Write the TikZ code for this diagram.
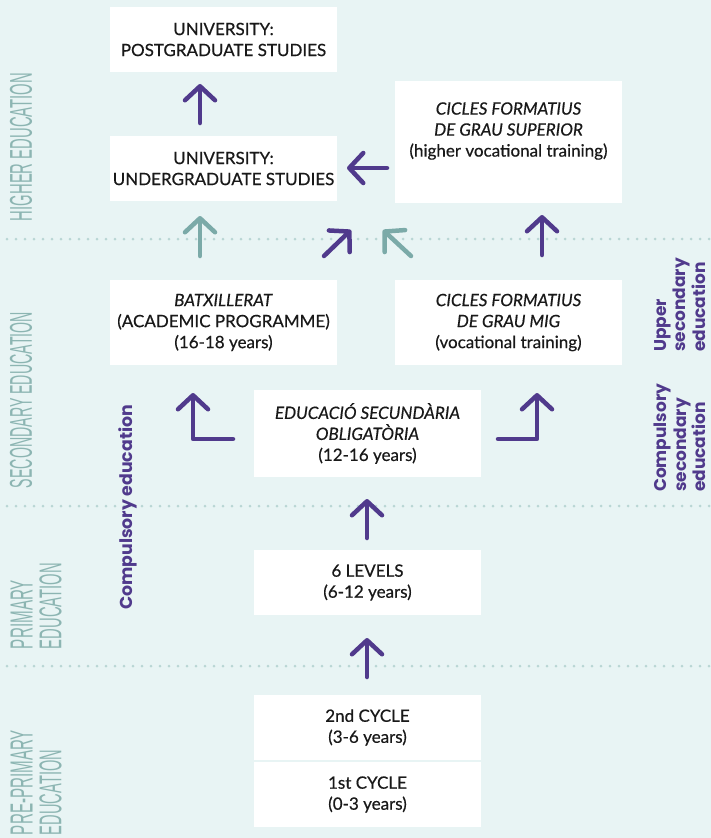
\documentclass[tikz,border=0pt]{standalone}
\usepackage{fontspec}
\usepackage{graphicx}
\usetikzlibrary{arrows.meta}
\newfontfamily\boxfont{Lato}[UprightFeatures={FakeBold=0.5},ItalicFeatures={FakeBold=0.5}]
\newfontfamily\labfont{Liberation Sans}
\newfontfamily\purfont{Poppins}
\definecolor{bgc}{RGB}{232,244,244}
\definecolor{purp}{RGB}{80,58,140}
\definecolor{tealarr}{RGB}{123,170,168}
\definecolor{labc}{RGB}{140,181,178}
\definecolor{dotc}{RGB}{185,214,212}
\definecolor{txt}{RGB}{25,25,25}
\tikzset{
  box/.style={fill=white, inner sep=0pt, align=center, text=txt,
    font=\boxfont\fontsize{17}{21}\selectfont, minimum width=227pt},
  arr/.style={line width=4.5pt, line cap=round, line join=round, draw=purp,
    -{Straight Barb[length=14pt,width=30pt,round]}},
  tarr/.style={arr, draw=tealarr},
  dotline/.style={draw=dotc, line width=3pt, line cap=round, dash pattern=on 0pt off 9pt},
  sidelab/.style={text=labc, inner sep=0pt, rotate=90},
  purlab/.style={text=purp, inner sep=0pt, rotate=90, align=left,
    font=\purfont\bfseries\fontsize{17}{19.5}\selectfont}
}
\begin{document}
\begin{tikzpicture}[x=1pt,y=-1pt]
\fill[bgc] (0,0) rectangle (711,838);
\useasboundingbox (0,0) rectangle (711,838);
% dotted separators
\coordinate (d1a) at (7,239); \coordinate (d1b) at (711,239);
\coordinate (d2a) at (7,506); \coordinate (d2b) at (711,506);
\coordinate (d3a) at (7,666); \coordinate (d3b) at (711,666);
\draw[dotline] (d1a) -- (d1b);
\draw[dotline] (d2a) -- (d2b);
\draw[dotline] (d3a) -- (d3b);
% boxes
\node[box, minimum height=65pt] (post) at (223.5,39.5) {UNIVERSITY:\\POSTGRADUATE STUDIES};
\node[box, minimum height=65pt] (under) at (223.5,168.5) {UNIVERSITY:\\UNDERGRADUATE STUDIES};
\node[box, minimum height=122pt] (sup) at (508.5,142) {};
\node[box, fill=none] (suptext) at (508.5,131) {\textit{CICLES FORMATIUS}\\\textit{DE GRAU SUPERIOR}\\(higher vocational training)};
\node[box, minimum height=85pt] (batx) at (223.5,322.5) {\textit{BATXILLERAT}\\(ACADEMIC PROGRAMME)\\(16-18 years)};
\node[box, minimum height=85pt] (mig) at (508.5,322.5) {\textit{CICLES FORMATIUS}\\\textit{DE GRAU MIG}\\(vocational training)};
\node[box, minimum height=87pt] (eso) at (367.5,433.5) {\textit{EDUCACIÓ SECUNDÀRIA}\\\textit{OBLIGATÒRIA}\\(12-16 years)};
\node[box, minimum height=65pt] (lev) at (367.5,582.5) {6 LEVELS\\(6-12 years)};
\node[box, minimum height=65pt] (cyc2) at (367.5,727.5) {2nd CYCLE\\(3-6 years)};
\node[box, minimum height=65pt] (cyc1) at (367.5,794.5) {1st CYCLE\\(0-3 years)};
% arrow end points
\coordinate (a1s) at (200,123); \coordinate (a1e) at (200,84);
\coordinate (a2s) at (200,256); \coordinate (a2e) at (200,216);
\coordinate (a3s) at (387,168); \coordinate (a3e) at (347,168);
\coordinate (a4s) at (324,256); \coordinate (a4e) at (351,230);
\coordinate (a5s) at (411,256); \coordinate (a5e) at (383,230);
\coordinate (a6s) at (542,255); \coordinate (a6e) at (542,215);
\coordinate (e1s) at (233,439); \coordinate (e1e) at (193,393);
\coordinate (e2s) at (498,439); \coordinate (e2e) at (537,393);
\coordinate (a7s) at (367,538); \coordinate (a7e) at (367,499);
\coordinate (a8s) at (367,677); \coordinate (a8e) at (367,638);
\draw[arr] (a1s) -- (a1e);
\draw[tarr] (a2s) -- (a2e);
\draw[arr] (a3s) -- (a3e);
\draw[arr] (a4s) -- (a4e);
\draw[tarr] (a5s) -- (a5e);
\draw[arr] (a6s) -- (a6e);
\draw[arr] (e1s) -| (e1e);
\draw[arr] (e2s) -| (e2e);
\draw[arr] (a7s) -- (a7e);
\draw[arr] (a8s) -- (a8e);
% left side labels
\node[sidelab] (lhigh) at (21,147) {\resizebox{148pt}{22pt}{\labfont HIGHER EDUCATION}};
\node[sidelab] (lsec) at (21,400) {\resizebox{176pt}{22pt}{\labfont SECONDARY EDUCATION}};
\node[sidelab] (lprim1) at (21.5,614.5) {\resizebox{69pt}{22pt}{\labfont PRIMARY}};
\node[sidelab] (lprim2) at (50.5,606) {\resizebox{86pt}{22pt}{\labfont EDUCATION}};
\node[sidelab] (lpre1) at (21.5,782.5) {\resizebox{105pt}{22pt}{\labfont PRE-PRIMARY}};
\node[sidelab] (lpre2) at (50.5,792.5) {\resizebox{85pt}{22pt}{\labfont EDUCATION}};
% purple labels
\node[purlab, anchor=base west, font=\purfont\bfseries\fontsize{17.3}{20}\selectfont] (comp) at (132,610) {Compulsory education};
\node[purlab, anchor=north west] (upper) at (654,352) {Upper\\secondary\\education};
\node[purlab, anchor=north west] (csec) at (654,492) {Compulsory\\secondary\\education};
\end{tikzpicture}
\end{document}
